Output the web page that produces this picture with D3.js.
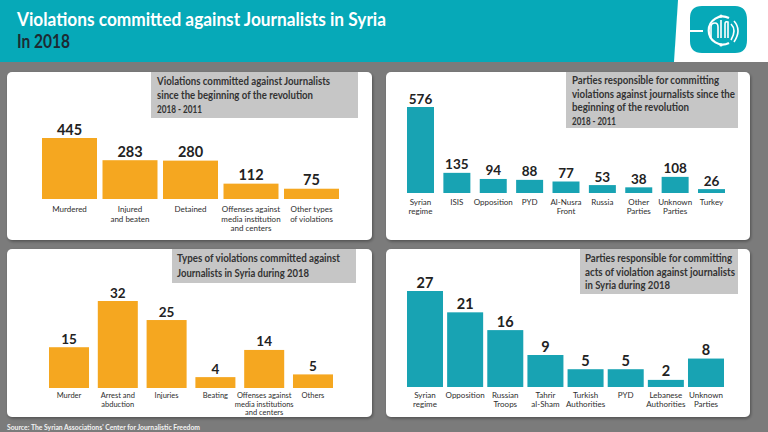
<!DOCTYPE html>
<html><head><meta charset="utf-8">
<script src="https://cdn.jsdelivr.net/npm/d3@7/dist/d3.min.js"></script>
<style>
body{margin:0;background:#7b7b7b;}
svg{display:block;font-family:Lato,"Open Sans",sans-serif;}
</style>
</head><body>
<svg id="chart" width="768" height="432"></svg>
<script>
// ---------- DATA ----------
const totalTypeCats = ["Murdered","Injured\nand beaten","Detained","Offenses against\nmedia institution\nand centers","Other types\nof violations"];
const totalTypeVals = [445,283,280,112,75];

const totalPartyCats = ["Syrian\nregime","ISIS","Opposition","PYD","Al-Nusra\nFront","Russia","Other\nParties","Unknown\nParties","Turkey"];
const totalPartyVals = [576,135,94,88,77,53,38,108,26];

const type2018Cats = ["Murder","Arrest and\nabduction","Injuries","Beating","Offenses against\nmedia institutions\nand centers","Others"];
const type2018Vals = [15,32,25,4,14,5];

const party2018Cats = ["Syrian\nregime","Opposition","Russian\nTroops","Tahrir\nal-Sham","Turkish\nAuthorities","PYD","Lebanese\nAuthorities","Unknown\nParties"];
const party2018Vals = [27,21,16,9,5,5,2,8];

const mainTitle = ["Violations committed against Journalists in Syria","In 2018"];
const panelTitles = [
  ["Violations committed against Journalists","since the beginning of the revolution","2018 - 2011"],
  ["Parties responsible for committing","violations against journalists since the","beginning of the revolution","2018 - 2011"],
  ["Types of violations committed against","Journalists in Syria during 2018"],
  ["Parties responsible for committing","acts of violation against journalists","in Syria during 2018"]
];
const sourceText = "Source: The Syrian Associations' Center for Journalistic Freedom";

// ---------- STYLE / LAYOUT ----------
const ORANGE = "#f5a720", TEAL_BAR = "#18a3b3", TEAL_HEAD = "#06a9b8", BOXGRAY = "#c6c6c6", TXT = "#2e2e2e";
const svg = d3.select("#chart");

const defs = svg.append("defs");
const f = defs.append("filter").attr("id","sh").attr("x","-5%").attr("y","-5%").attr("width","110%").attr("height","115%");
f.append("feDropShadow").attr("dx",1).attr("dy",1.5).attr("stdDeviation",1.5).attr("flood-color","#000").attr("flood-opacity",0.35);

svg.append("rect").attr("width",768).attr("height",432).attr("fill","#7b7b7b");

// header
svg.append("rect").attr("x",0).attr("y",0).attr("width",768).attr("height",62).attr("fill",TEAL_HEAD);
svg.append("path").attr("d","M678,0 L768,0 L768,62 L674,62 Z").attr("fill","#ffffff");
// logo
const lg = svg.append("g");
lg.append("path").attr("d","M696,6 H735 Q747,6 747,20 V40 Q747,53 735,53 H702 Q690,53 690,41 V18 Q690,6 702,6 Z").attr("fill",TEAL_HEAD);
lg.append("path").attr("d","M690,31 H703").attr("stroke","#fff").attr("stroke-width",2).attr("fill","none");
lg.append("path").attr("d","M729,18 A14,14 0 1 0 729,43").attr("stroke","#fff").attr("stroke-width",2.2).attr("fill","none");
lg.append("path").attr("d","M711,38 V27 Q711,23 715,23 Q718,23 718,27 V38 M721,38 V20 M725,38 V24 Q725,21 728,22 V38 M731,24 Q737,30 731,40 M734,21 Q742,30 734,42").attr("stroke","#fff").attr("stroke-width",1.6).attr("fill","none");
lg.append("circle").attr("cx",721).attr("cy",16).attr("r",1.6).attr("fill","#fff");
lg.append("circle").attr("cx",721).attr("cy",45).attr("r",1.6).attr("fill","#fff");

svg.append("text").attr("x",17).attr("y",26).attr("fill","#ffffff").attr("font-size",18).attr("font-weight",700)
  .attr("textLength",369).attr("lengthAdjust","spacingAndGlyphs").text(mainTitle[0]);
svg.append("text").attr("x",17).attr("y",48).attr("fill","#1d2b33").attr("font-size",18).attr("font-weight",700)
  .attr("textLength",53).attr("lengthAdjust","spacingAndGlyphs").text(mainTitle[1]);

// panels
const panels = [
  {x:7, y:72, w:365, h:168, box:[151,72,207,46], tx:157, ty:[85,99,113], tw:[173,156,45],
   cats:totalTypeCats, vals:totalTypeVals, color:ORANGE, x0:42, x1:339, pad:0.091, bottom:199, top:138, vfs:14.5, lo:13, ls:9.5, lfs:8},
  {x:386, y:72, w:364, h:168, box:[566,72,172,56], tx:572, ty:[84,97.5,111,124.5], tw:[147,163,117,44],
   cats:totalPartyCats, vals:totalPartyVals, color:TEAL_BAR, x0:407, x1:725, pad:0.258, bottom:193, top:107, vfs:13.5, lo:12, ls:9, lfs:8},
  {x:7, y:249, w:365, h:168, box:[172,249,184,34], tx:177, ty:[262,277], tw:[163,132],
   cats:type2018Cats, vals:type2018Vals, color:ORANGE, x0:49, x1:333, pad:0.18, bottom:388, top:301, vfs:13.5, lo:10, ls:8.7, lfs:7.5},
  {x:386, y:249, w:364, h:168, box:[580,249,158,45], tx:585, ty:[262,275.5,289], tw:[147,150,85],
   cats:party2018Cats, vals:party2018Vals, color:TEAL_BAR, x0:407, x1:724, pad:0.103, bottom:387, top:291, vfs:14.5, lo:11, ls:9, lfs:8}
];

panels.forEach((p,i)=>{
  const g = svg.append("g");
  g.append("rect").attr("x",p.x).attr("y",p.y).attr("width",p.w).attr("height",p.h).attr("rx",5).attr("fill","#ffffff").attr("filter","url(#sh)");
  g.append("rect").attr("x",p.box[0]).attr("y",p.box[1]).attr("width",p.box[2]).attr("height",p.box[3]).attr("fill",BOXGRAY);
  panelTitles[i].forEach((line,j)=>{
    g.append("text").attr("x",p.tx).attr("y",p.ty[j]).attr("font-size",10.5).attr("font-weight",700).attr("fill","#333")
      .attr("textLength",p.tw[j]).attr("lengthAdjust","spacingAndGlyphs").text(line);
  });

  const x = d3.scaleBand().domain(p.cats).range([p.x0,p.x1]).paddingInner(p.pad).paddingOuter(0);
  const y = d3.scaleLinear().domain([0,d3.max(p.vals)]).range([p.bottom,p.top]);
  const data = p.cats.map((c,k)=>({c, v:p.vals[k]}));

  g.selectAll(".bar").data(data).join("rect")
    .attr("x",d=>x(d.c)).attr("width",x.bandwidth())
    .attr("y",d=>y(d.v)).attr("height",d=>y(0)-y(d.v)).attr("fill",p.color);

  g.selectAll(".val").data(data).join("text")
    .attr("x",d=>x(d.c)+x.bandwidth()/2).attr("y",d=>y(d.v)-3.5)
    .attr("text-anchor","middle").attr("font-size",p.vfs).attr("font-weight",700).attr("fill","#222")
    .text(d=>d.v);

  const lab = g.selectAll(".lab").data(data).join("text")
    .attr("x",d=>x(d.c)+x.bandwidth()/2).attr("y",y(0)+p.lo)
    .attr("text-anchor","middle").attr("font-size",p.lfs).attr("font-weight",400).attr("fill",TXT);
  lab.each(function(d){
    const t = d3.select(this);
    d.c.split("\n").forEach((s,k)=>{
      t.append("tspan").attr("x",x(d.c)+x.bandwidth()/2).attr("dy",k===0?0:p.ls).text(s);
    });
  });
});

svg.append("text").attr("x",7).attr("y",430).attr("font-size",7).attr("font-weight",700).attr("fill","#f2f2f2")
  .attr("textLength",193).attr("lengthAdjust","spacingAndGlyphs").text(sourceText);
</script>
</body></html>
